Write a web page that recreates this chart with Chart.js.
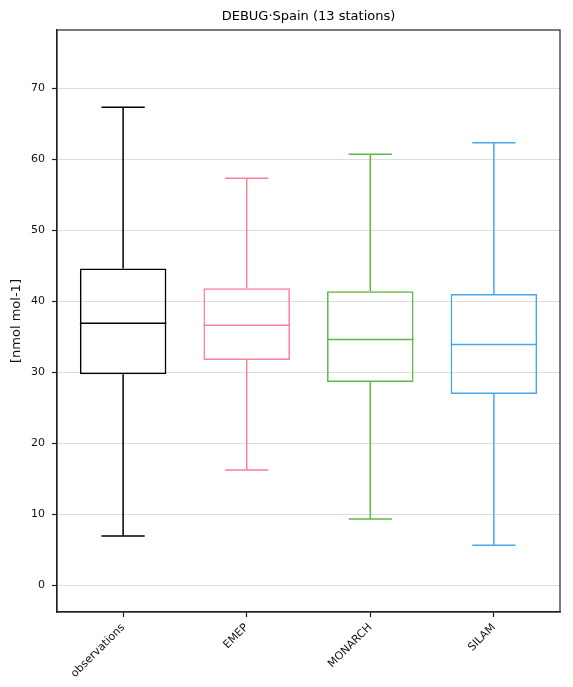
<!DOCTYPE html>
<html>
<head>
<meta charset="utf-8">
<script src="https://cdn.jsdelivr.net/npm/chart.js@4"></script>
<style>
  html, body { margin: 0; padding: 0; background: #fff; }
  #wrap { width: 573px; height: 687px; }
</style>
</head>
<body>
<div id="wrap"><canvas id="chart"></canvas></div>
<script>
// box plot values
const categories = ["observations", "EMEP", "MONARCH", "SILAM"];
const whiskerLow = [6.9, 16.2, 9.3, 5.6];
const q1 = [29.7, 31.7, 28.6, 26.9];
const median = [36.9, 36.6, 34.6, 33.9];
const q3 = [44.6, 41.8, 41.4, 41.0];
const whiskerHigh = [67.3, 57.3, 60.7, 62.3];
const colors = ["#000000", "#ff7f98", "#5cb944", "#45a8ed"];
const yTicks = [0, 10, 20, 30, 40, 50, 60, 70];
const titleText = "DEBUG·Spain (13 stations)";

// whiskers, caps, medians, frame and title, drawn through the chart scales
const boxExtras = {
    id: "boxExtras",
    afterDatasetsDraw(chart) {
        const ctx = chart.ctx;
        const x = chart.scales.x;
        const y = chart.scales.y;
        const bars = chart.getDatasetMeta(0).data;
        ctx.save();
        ctx.lineWidth = 1.5;
        categories.forEach((c, i) => {
            const cx = x.getPixelForValue(i);
            const w = bars[i].width;
            ctx.strokeStyle = colors[i];
            ctx.beginPath();
            ctx.moveTo(cx - w / 2, y.getPixelForValue(median[i]));
            ctx.lineTo(cx + w / 2, y.getPixelForValue(median[i]));
            ctx.moveTo(cx, y.getPixelForValue(q3[i]));
            ctx.lineTo(cx, y.getPixelForValue(whiskerHigh[i]));
            ctx.moveTo(cx, y.getPixelForValue(q1[i]));
            ctx.lineTo(cx, y.getPixelForValue(whiskerLow[i]));
            ctx.moveTo(cx - w / 4, y.getPixelForValue(whiskerHigh[i]));
            ctx.lineTo(cx + w / 4, y.getPixelForValue(whiskerHigh[i]));
            ctx.moveTo(cx - w / 4, y.getPixelForValue(whiskerLow[i]));
            ctx.lineTo(cx + w / 4, y.getPixelForValue(whiskerLow[i]));
            ctx.stroke();
        });
        const a = chart.chartArea;
        ctx.strokeStyle = "#222";
        ctx.lineWidth = 1.2;
        ctx.strokeRect(a.left, a.top, a.right - a.left, a.bottom - a.top);
        ctx.fillStyle = "#000";
        ctx.font = "13px 'DejaVu Sans'";
        ctx.textAlign = "center";
        ctx.textBaseline = "middle";
        ctx.fillText(titleText, (a.left + a.right) / 2, 17);
        ctx.restore();
    }
};

new Chart(document.getElementById("chart").getContext("2d"), {
    type: "bar",
    data: {
        datasets: [{
            data: categories.map((c, i) => ({ x: i, y: [q1[i], q3[i]] })),
            borderColor: colors,
            backgroundColor: "rgba(0,0,0,0)",
            borderWidth: 1.5,
            borderSkipped: false,
            barPercentage: 0.7,
            categoryPercentage: 1
        }]
    },
    options: {
        responsive: true,
        maintainAspectRatio: false,
        animation: false,
        layout: { padding: { left: 0, right: 13, top: 30, bottom: 0 } },
        plugins: {
            legend: { display: false },
            tooltip: { enabled: false },
            title: { display: false }
        },
        scales: {
            x: {
                type: "linear",
                min: -0.535,
                max: 3.535,
                offset: false,
                afterFit: (scale) => { scale.height = 75; },
                afterBuildTicks: (scale) => { scale.ticks = categories.map((c, i) => ({ value: i })); },
                grid: { offset: false, drawOnChartArea: false, tickLength: 5, tickColor: "#222", tickWidth: 1.2 },
                border: { color: "#222", width: 1.2 },
                ticks: {
                    color: "#111",
                    font: { family: "DejaVu Sans", size: 11 },
                    minRotation: 45,
                    maxRotation: 45,
                    padding: 4,
                    callback: (v) => categories[v]
                }
            },
            y: {
                min: -3.8,
                max: 78.2,
                afterFit: (scale) => { scale.width = 57; },
                afterBuildTicks: (scale) => { scale.ticks = yTicks.map(v => ({ value: v })); },
                grid: { color: "#dddddd", lineWidth: 1, tickLength: 5, tickColor: "#222", tickWidth: 1.2 },
                border: { color: "#222", width: 1.2 },
                ticks: {
                    color: "#111",
                    font: { family: "DejaVu Sans", size: 11 },
                    padding: 7
                },
                title: {
                    display: true,
                    text: "[nmol mol-1]",
                    color: "#111",
                    font: { family: "DejaVu Sans", size: 13 },
                    padding: { top: 9, bottom: 0 }
                }
            }
        }
    },
    plugins: [boxExtras]
});
</script>
</body>
</html>
